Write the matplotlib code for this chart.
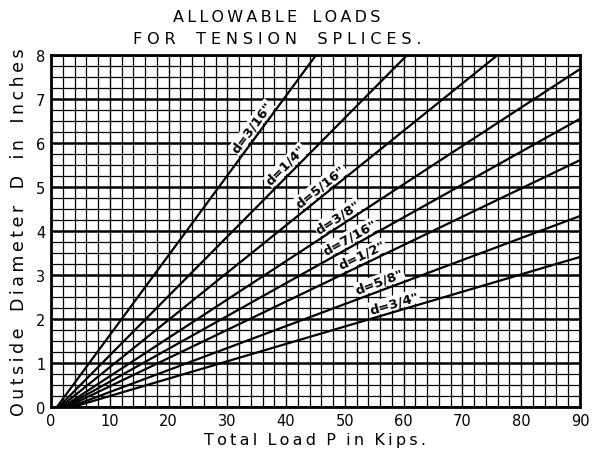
import numpy as np
import matplotlib.pyplot as plt
from matplotlib.ticker import MultipleLocator

# Rivet diameters and the straight-line allowable-load curves
labels = ['d=3/16"', 'd=1/4"', 'd=5/16"', 'd=3/8"', 'd=7/16"', 'd=1/2"', 'd=5/8"', 'd=3/4"']
start_load = [1.0, 1.3, 1.6, 2.0, 2.3, 2.7, 3.2, 3.7]          # P where D = 0
end_load = [45.1, 60.6, 76.0, 90.0, 90.0, 90.0, 90.0, 90.0]      # P at end of line
end_diam = [8.0, 8.0, 8.0, 7.68, 6.55, 5.61, 4.34, 3.41]         # D at end of line
label_load = [35.4, 41.0, 46.8, 49.6, 51.6, 53.6, 56.4, 58.8]    # where each tag sits

x_ticks = list(range(0, 91, 10))
y_ticks = list(range(0, 9))

plt.rcParams['font.family'] = ['DejaVu Sans']


def spaced(s, gap='\u2009', word='   '):
    """Open up the lettering: thin gaps between letters, wider between words."""
    return word.join(gap.join(w) for w in s.split(' '))


fig = plt.figure(figsize=(5.94, 4.56), dpi=100)
ax = fig.add_axes([51 / 594, 1 - 408 / 456, (580 - 51) / 594, (408 - 56) / 456])

ax.set_xlim(0, 90)
ax.set_ylim(0, 8)
ax.set_xticks(x_ticks)
ax.set_yticks(y_ticks)
ax.xaxis.set_minor_locator(MultipleLocator(2))
ax.yaxis.set_minor_locator(MultipleLocator(0.25))
ax.grid(which='minor', color='black', linewidth=0.9, zorder=1)
ax.grid(which='major', axis='y', color='black', linewidth=1.8, zorder=1)
ax.grid(which='major', axis='x', color='black', linewidth=1.0, zorder=1)
ax.tick_params(which='both', length=0, labelsize=10.5, pad=4)
for s in ax.spines.values():
    s.set_linewidth(2.0)

for lab, x0, x1, y1, xl in zip(labels, start_load, end_load, end_diam, label_load):
    ax.plot([x0, x1], [0, y1], color='black', linewidth=1.6, zorder=4,
            solid_capstyle='butt')
    slope = y1 / (x1 - x0)
    yl = slope * (xl - x0)
    ang = ax.transData.transform_angles(np.array([np.degrees(np.arctan(slope))]),
                                        np.array([[xl, yl]]))[0]
    off = 6.5  # points, perpendicular to the line
    dx = -off * np.sin(np.radians(ang))
    dy = off * np.cos(np.radians(ang))
    ax.annotate(lab, xy=(xl, yl), xytext=(dx, dy),
                textcoords='offset points', ha='center', va='center',
                fontsize=9.5, fontweight='bold', rotation=ang,
                rotation_mode='anchor',
                bbox=dict(boxstyle='square,pad=0.05', fc='white', ec='none'),
                zorder=3)

ax.set_xlabel(spaced('Total Load P in Kips.', word='  '), fontsize=11.5, labelpad=3)
ax.set_ylabel(spaced('Outside Diameter D in Inches'), fontsize=12.5, labelpad=6)

fig.text(277 / 594, 1 - 17 / 456, spaced('ALLOWABLE LOADS', word='   '),
         ha='center', va='center', fontsize=11.5)
fig.text(277 / 594, 1 - 40 / 456,
         spaced('FOR TENSION SPLICES.', gap='\u2009\u200a', word='    '),
         ha='center', va='center', fontsize=11.5)

fig.savefig('out.png', dpi=100)
